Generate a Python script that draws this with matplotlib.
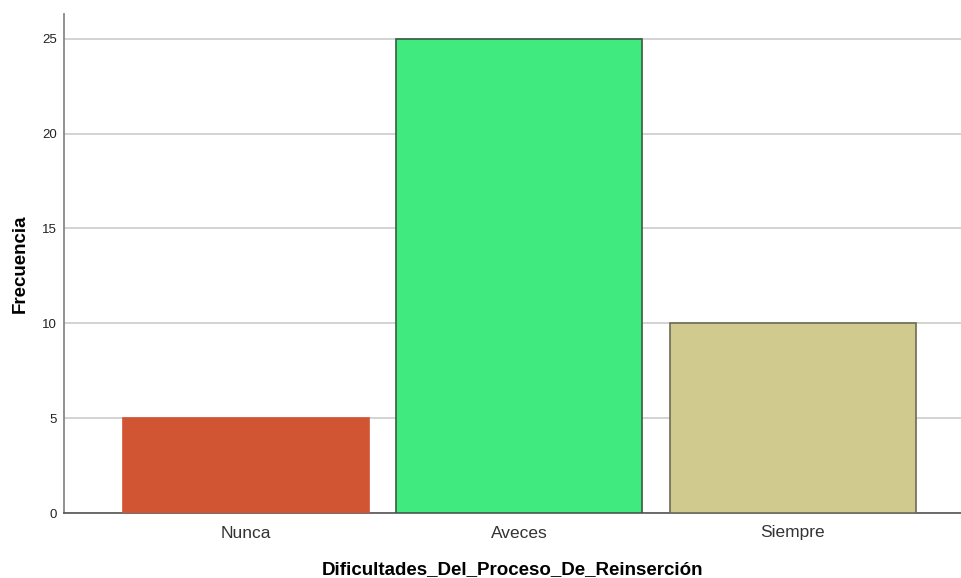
import matplotlib
matplotlib.use("Agg")
import matplotlib.pyplot as plt

# datos del gráfico
categorias = ["Nunca", "Aveces", "Siempre"]
frecuencias = [5, 25, 10]
colores = ["#D15533", "#40EA7F", "#D0CA8F"]
bordes = ["#D15533", "#3A5A40", "#6E6A55"]
yticks = [0, 5, 10, 15, 20, 25]

plt.rcParams["font.family"] = ["Liberation Sans", "DejaVu Sans"]

fig = plt.figure(figsize=(9.62, 5.78), dpi=100)
ax = fig.add_axes([64 / 962, 65 / 578, 1 - 64 / 962, 499 / 578])

x = range(len(categorias))
ax.bar(x, frecuencias, width=0.9, color=colores, edgecolor=bordes, linewidth=1.2, zorder=3)

ax.set_xlim(-0.667, 2.62)
ax.set_ylim(0, 26.3)
ax.set_yticks(yticks)
ax.set_xticks(list(x))
ax.set_xticklabels(categorias, fontsize=12.5, color="#333333")
ax.tick_params(axis="y", labelsize=9.5, colors="#222222", length=0, pad=5)
ax.tick_params(axis="x", length=0, pad=9)
ax.yaxis.grid(True, color="#D0D0D0", linewidth=1.3, zorder=0)

for s in ["top", "right"]:
    ax.spines[s].set_visible(False)
ax.spines["left"].set_color("#888888")
ax.spines["left"].set_linewidth(1.3)
ax.spines["bottom"].set_color("#555555")
ax.spines["bottom"].set_linewidth(1.2)

ax.set_ylabel("Frecuencia", fontsize=13.5, fontweight="bold", labelpad=10)
ax.set_xlabel("Dificultades_Del_Proceso_De_Reinserción", fontsize=13.5,
              fontweight="bold", labelpad=15)

fig.savefig("out.png", dpi=100)
